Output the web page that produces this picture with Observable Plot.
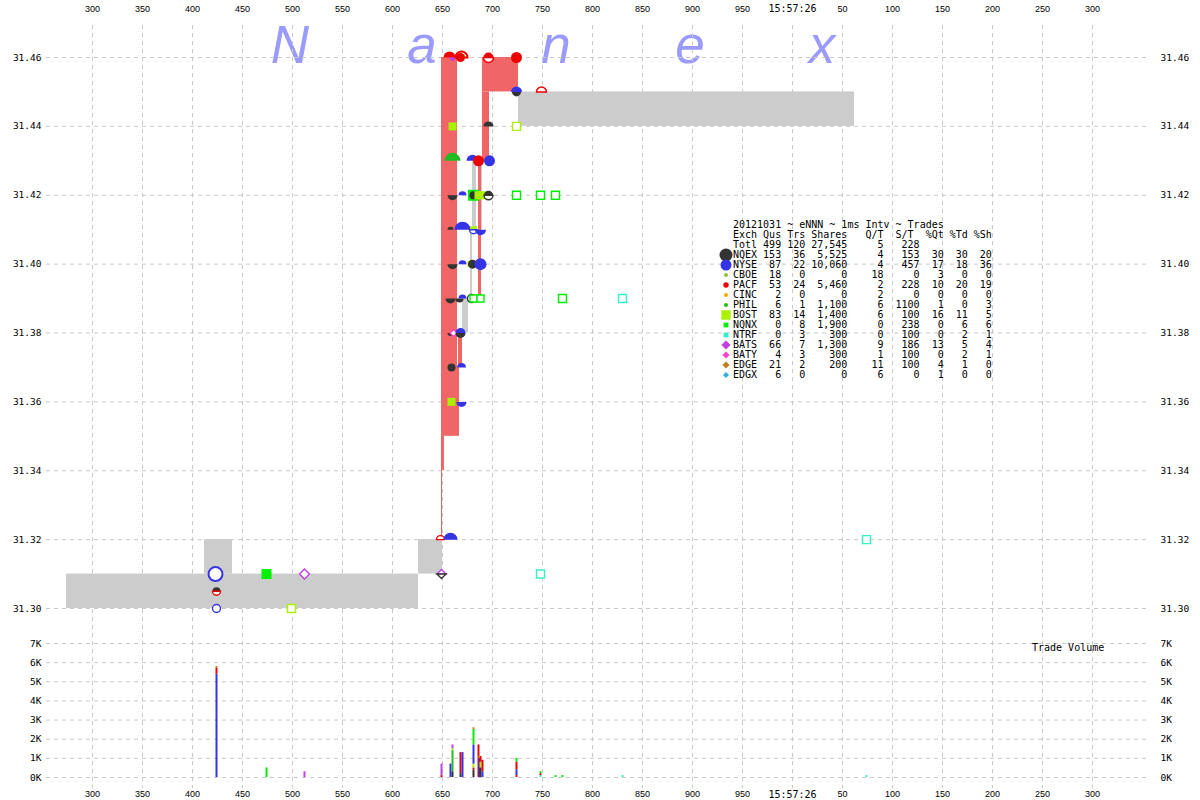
<!DOCTYPE html>
<html><head><meta charset="utf-8">
<script src="https://cdn.jsdelivr.net/npm/d3@7"></script>
<script src="https://cdn.jsdelivr.net/npm/@observablehq/plot@0.6"></script>
<style>
body{margin:0;background:#fff;}
#wrap{position:relative;width:1200px;height:800px;overflow:hidden;background:#fff;}
#wrap svg.plot-part{position:absolute;left:0;}
.wm{position:absolute;top:25px;font-family:"Liberation Sans",sans-serif;font-style:italic;font-size:53px;line-height:40px;height:40px;color:#9a9aff;transform:translateX(-50%);}
#legend{position:absolute;left:733px;top:220px;font-family:"DejaVu Sans Mono",monospace;font-size:10px;line-height:10px;white-space:pre;color:#000;}
#legend .row{position:relative;height:10px;}
#legend svg{position:absolute;top:-3px;left:-15px;overflow:visible;}
#tv{position:absolute;left:1032px;top:642px;font-family:"DejaVu Sans Mono",monospace;font-size:10px;color:#000;}
</style></head><body><div id="wrap"></div>
<script>
// ---------- axis ticks ----------
const xTicks = [300,350,400,450,500,550,600,650,700,750,800,850,900,950,1000,1050,1100,1150,1200,1250,1300];
const xTickLabels = ["300","350","400","450","500","550","600","650","700","750","800","850","900","950","15:57:26","50","100","150","200","250","300"];
const priceTicks = [31.30,31.32,31.34,31.36,31.38,31.40,31.42,31.44,31.46];
const volTicks = [0,1000,2000,3000,4000,5000,6000,7000];
const volTickLabels = ["0K","1K","2K","3K","4K","5K","6K","7K"];
const watermark = ["N","a","n","e","x"];

// ---------- exchanges ----------
const exchNames  = ["NQEX","NYSE","CBOE","PACF","CINC","PHIL","BOST","NQNX","NTRF","BATS","BATY","EDGE","EDGX"];
const exchColors = ["#333333","#3434e6","#94c43a","#ee0000","#ffa500","#22bb22","#aaf000","#00f000","#33f0c8","#c040e0","#ff40c8","#c08020","#30b0e0"];
const exchShapes = ["circle","circle","circle","circle","circle","circle","square","square","square","diamond","diamond","diamond","diamond"];
const exchLegendR = [6.5,5.5,2,2.7,2,2,4.7,2.4,2.4,4.6,3.6,3.6,3];
const exchQus    = [153,87,18,53,2,6,83,0,0,66,4,21,6];
const exchTrs    = [36,22,0,24,0,1,14,8,3,7,3,2,0];
const exchShares = [5525,10060,0,5460,0,1100,1400,1900,300,1300,300,200,0];
const exchQT     = [4,4,18,2,2,6,6,0,0,9,1,11,6];
const exchST     = [153,457,0,228,0,1100,100,238,100,186,100,100,0];
const exchPctQt  = [30,17,3,10,0,1,16,0,0,13,0,4,1];
const exchPctTd  = [30,18,0,20,0,0,11,6,2,5,2,1,0];
const exchPctSh  = [20,36,0,19,0,3,5,6,1,4,1,0,0];
const totals = {qus:499, trs:120, shares:27545, qt:5, st:228};

// ---------- NBBO spread (grey) and crossed market (red): [t1 ms, t2 ms, low, high, kind] ----------
const spreadBands = [
  [274,626,31.30,31.31,"nbbo"],
  [412,440,31.31,31.32,"nbbo"],
  [626,650,31.31,31.32,"nbbo"],
  [726,1062,31.44,31.45,"nbbo"],
  [680,684,31.41,31.43,"nbbo"],
  [689,690,31.41,31.43,"nbbo"],
  [678,680,31.39,31.41,"nbbo"],
  [670,676,31.38,31.39,"nbbo"],
  [649,665,31.35,31.46,"crossed"],
  [665,667,31.35,31.37,"crossed"],
  [666,670,31.37,31.38,"crossed"],
  [649,652,31.34,31.35,"crossed"],
  [649,650,31.32,31.34,"crossed"],
  [690,726,31.45,31.46,"crossed"],
  [690,697,31.43,31.45,"crossed"],
  [686,689,31.39,31.43,"crossed"]
];

// ---------- quotes & trades: [t ms, price, exch, shape, radius, filled] ----------
const priceMarks = [
  [423,31.31,"NYSE","circle",7,false],
  [424,31.305,"NQEX","up",4,true],
  [424,31.305,"PACF","down",4,false],
  [424,31.30,"NYSE","circle",4,false],
  [474,31.31,"NQNX","square",5,true],
  [512,31.31,"BATS","diamond",5,false],
  [499,31.30,"BOST","square",4,false],
  [649,31.31,"BATS","diamondUp",4.5,false],
  [649,31.31,"NQEX","diamondDown",4.5,false],
  [648,31.32,"PACF","up",4,false],
  [658,31.32,"NYSE","up",7,true],
  [657,31.46,"PACF","up",6,true],
  [660,31.46,"BATS","diamondDown",4,true],
  [669,31.46,"PACF","up",6,false],
  [668,31.46,"PACF","circle",4.5,true],
  [696,31.46,"PACF","up",5,true],
  [696,31.46,"PACF","down",5,false],
  [724,31.46,"PACF","circle",5.5,true],
  [749,31.45,"PACF","up",5,false],
  [724,31.45,"NYSE","up",5.5,true],
  [724,31.45,"NQEX","down",4.5,true],
  [660,31.44,"BOST","square",4,true],
  [696,31.44,"NQEX","up",5,true],
  [724,31.44,"BOST","square",4,false],
  [660,31.43,"PHIL","up",8,true],
  [680,31.43,"NYSE","up",6,true],
  [686,31.43,"PACF","circle",5.5,true],
  [697,31.43,"NYSE","circle",5.5,true],
  [660,31.42,"NQEX","down",5,true],
  [670,31.42,"NYSE","up",4,true],
  [681,31.42,"NQNX","square",5.5,true],
  [681,31.42,"NQEX","circle",4,true],
  [686,31.42,"BOST","square",4,true],
  [689,31.42,"BOST","square",4,true],
  [696,31.42,"NQEX","up",4.5,true],
  [696,31.42,"NQEX","down",4.5,false],
  [724,31.42,"NQNX","square",4,false],
  [748,31.42,"NQNX","square",4,false],
  [763,31.42,"NQNX","square",4,false],
  [658,31.41,"NQEX","up",3,true],
  [670,31.41,"NYSE","up",8,true],
  [681,31.41,"BOST","square",3.5,true],
  [681,31.41,"NYSE","down",4,false],
  [688,31.41,"NYSE","down",5.5,true],
  [660,31.40,"NQEX","down",5,true],
  [670,31.40,"NYSE","up",4,true],
  [678,31.40,"BOST","square",3,true],
  [680,31.40,"NQEX","circle",4.5,true],
  [688,31.40,"NYSE","circle",6,true],
  [658,31.39,"NQEX","down",5,true],
  [667,31.39,"NQEX","down",4,true],
  [670,31.39,"NYSE","up",4,true],
  [679,31.39,"NQEX","circle",4,false],
  [681,31.39,"NQNX","square",3.5,false],
  [688,31.39,"NQNX","square",3.5,false],
  [770,31.39,"NQNX","square",4,false],
  [830,31.39,"NTRF","square",4,false],
  [658,31.38,"NQEX","down",3,true],
  [661,31.38,"BATY","diamond",3.5,false],
  [668,31.38,"NYSE","up",5,true],
  [668,31.38,"NQEX","down",5,true],
  [659,31.37,"NQEX","circle",4,true],
  [669,31.37,"NYSE","up",4.5,true],
  [659,31.36,"BOST","square",4,true],
  [669,31.36,"NYSE","down",5,true],
  [748,31.31,"NTRF","square",4,false],
  [1074,31.32,"NTRF","square",4,false]
];

// ---------- trade volume: [t ms, exch, shares] ----------
const volumeTrades = [
  [424,"NYSE",5400],[424,"PACF",300],[424,"EDGE",100],
  [474,"NQNX",500],
  [512,"BATS",300],
  [649,"PACF",100],[649,"BATS",600],
  [658,"NYSE",700],
  [660,"NQEX",300],[660,"PHIL",1100],[660,"BOST",100],[660,"BATS",200],
  [668,"NQEX",200],[668,"PACF",1100],
  [670,"NYSE",1300],
  [681,"NQEX",400],[681,"PACF",100],[681,"BOST",200],[681,"NYSE",1000],[681,"NQNX",800],[681,"EDGE",100],
  [686,"PACF",1700],
  [687,"NYSE",1000],[687,"BOST",100],
  [688,"NQEX",500],[688,"BOST",300],[688,"PACF",300],
  [690,"NYSE",300],[690,"PACF",600],
  [724,"PACF",100],[724,"NYSE",300],[724,"PACF",400],[724,"NQNX",200],
  [748,"NTRF",100],[748,"PACF",100],[748,"NQNX",100],
  [763,"NQNX",100],
  [770,"NQNX",100],
  [830,"NTRF",100],
  [1074,"NTRF",100]
];

// ---------- helpers ----------
const colorOf = Object.fromEntries(exchNames.map((n,i)=>[n,exchColors[i]]));
const rad = s => Math.sqrt(s/Math.PI);
const SYM = {
  circle:{draw(c,s){const r=rad(s);c.moveTo(r,0);c.arc(0,0,r,0,2*Math.PI);c.closePath();}},
  up:{draw(c,s){const r=rad(s);c.moveTo(-r,0);c.arc(0,0,r,Math.PI,2*Math.PI);c.closePath();}},
  down:{draw(c,s){const r=rad(s);c.moveTo(r,0);c.arc(0,0,r,0,Math.PI);c.closePath();}},
  square:{draw(c,s){const r=rad(s);c.rect(-r,-r,2*r,2*r);}},
  diamond:{draw(c,s){const r=rad(s);c.moveTo(0,-r);c.lineTo(r,0);c.lineTo(0,r);c.lineTo(-r,0);c.closePath();}},
  diamondUp:{draw(c,s){const r=rad(s);c.moveTo(-r,0);c.lineTo(0,-r);c.lineTo(r,0);c.closePath();}},
  diamondDown:{draw(c,s){const r=rad(s);c.moveTo(-r,0);c.lineTo(0,r);c.lineTo(r,0);c.closePath();}}
};
const GRID = {stroke:"#c8c8c8", strokeOpacity:1, strokeDasharray:"4,4"};
const xLabel = new Map(xTicks.map((t,i)=>[t,xTickLabels[i]]));
const volLabel = new Map(volTicks.map((t,i)=>[t,volTickLabels[i]]));
const numTicks = xTicks.filter(t=>t!==1000);
const timeTicks = xTicks.filter(t=>t===1000);
const NUMFONT = {fontFamily:"Liberation Sans", fontSize:9};
const MONO = {fontFamily:"DejaVu Sans Mono", fontSize:9.5};
const xScale = {domain:[300,1300], range:[92,1092]};

const bands = spreadBands.map(([t1,t2,lo,hi,kind])=>({t1,t2,lo,hi,kind}));
const marks = priceMarks.map(([t,price,exch,shape,r,filled])=>({t,price,exch,shape,r,filled}));

// ---------- price panel ----------
const dotMarks = marks.map(d => Plot.dot([d], {
  x:"t", y:"price", r:d.r, symbol:SYM[d.shape],
  fill: d.filled ? colorOf[d.exch] : "white",
  stroke: d.filled ? "none" : colorOf[d.exch],
  strokeWidth: d.r >= 6 && !d.filled ? 2 : 1.4
}));

const topPlot = Plot.plot({
  width:1200, height:625,
  marginLeft:46, marginRight:50, marginTop:25, marginBottom:0,
  x:xScale,
  y:{domain:[31.30,31.46], range:[608,57]},
  style:{background:"transparent", overflow:"visible"},
  marks:[
    Plot.gridX(xTicks, GRID),
    Plot.gridY(priceTicks, GRID),
    Plot.rect(bands, {x1:"t1", x2:"t2", y1:"lo", y2:"hi", fill:d=>d.kind==="nbbo"?"#cccccc":"#f06666"}),
    ...dotMarks,
    Plot.axisX(numTicks, {anchor:"top", tickSize:0, tickPadding:14, label:null, tickFormat:d=>xLabel.get(d), ...NUMFONT}),
    Plot.axisX(timeTicks, {anchor:"top", tickSize:0, tickPadding:14, label:null, tickFormat:d=>xLabel.get(d), fontFamily:"DejaVu Sans Mono", fontSize:10}),
    Plot.axisY(priceTicks, {anchor:"left", tickSize:0, tickPadding:5, label:null, tickFormat:d=>d.toFixed(2), ...MONO}),
    Plot.axisY(priceTicks, {anchor:"right", tickSize:0, tickPadding:10, label:null, tickFormat:d=>d.toFixed(2), ...MONO})
  ]
});

// ---------- volume panel ----------
const vol = [];
const cum = new Map();
for (const [t,exch,shares] of volumeTrades) {
  const base = cum.get(t) || 0;
  vol.push({t, exch, y1:base, y2:base+shares});
  cum.set(t, base+shares);
}
const volPlot = Plot.plot({
  width:1200, height:175,
  marginLeft:46, marginRight:50, marginTop:0, marginBottom:12,
  x:xScale,
  y:{domain:[0,7000], range:[152,18]},
  style:{background:"transparent", overflow:"visible"},
  marks:[
    Plot.gridX(xTicks, GRID),
    Plot.gridY(volTicks, GRID),
    Plot.ruleX(vol, {x:"t", y1:"y1", y2:"y2", stroke:d=>colorOf[d.exch], strokeWidth:2}),
    Plot.axisX(numTicks, {anchor:"bottom", tickSize:0, tickPadding:2, label:null, tickFormat:d=>xLabel.get(d), ...NUMFONT}),
    Plot.axisX(timeTicks, {anchor:"bottom", tickSize:0, tickPadding:2, label:null, tickFormat:d=>xLabel.get(d), fontFamily:"DejaVu Sans Mono", fontSize:10}),
    Plot.axisY(volTicks, {anchor:"left", tickSize:0, tickPadding:5, label:null, tickFormat:d=>volLabel.get(d), ...MONO}),
    Plot.axisY(volTicks, {anchor:"right", tickSize:0, tickPadding:10, label:null, tickFormat:d=>volLabel.get(d), ...MONO})
  ]
});

// ---------- assemble ----------
const wrap = document.getElementById("wrap");
const wmCenters = [290,422,556,690,822];
watermark.forEach((ch,i)=>{
  const s=document.createElement("div"); s.className="wm"; s.textContent=ch; s.style.left=wmCenters[i]+"px"; wrap.appendChild(s);
});
topPlot.classList.add("plot-part"); topPlot.style.top="0px"; wrap.appendChild(topPlot);
volPlot.classList.add("plot-part"); volPlot.style.top="625px"; wrap.appendChild(volPlot);

const tv=document.createElement("div"); tv.id="tv"; tv.textContent="Trade Volume"; wrap.appendChild(tv);

// legend
const fmt = d3.format(",");
const p = (v,n)=>String(v).padStart(n);
const legend=document.createElement("div"); legend.id="legend";
const lines=[
  {text:"20121031 ~ eNNN ~ 1ms Intv ~ Trades"},
  {text:"Exch Qus Trs Shares   Q/T  S/T  %Qt %Td %Sh"},
  {text:"Totl"+p(totals.qus,4)+p(totals.trs,4)+p(fmt(totals.shares),7)+p(totals.qt,6)+p(totals.st,6)}
];
exchNames.forEach((n,i)=>{
  lines.push({i, text:n+p(exchQus[i],4)+p(exchTrs[i],4)+p(fmt(exchShares[i]),7)+p(exchQT[i],6)+p(exchST[i],6)+p(exchPctQt[i],4)+p(exchPctTd[i],4)+p(exchPctSh[i],4)});
});
lines.forEach(l=>{
  const row=document.createElement("div"); row.className="row"; row.textContent=l.text;
  if (l.i!==undefined) {
    const r=exchLegendR[l.i];
    const svg=d3.create("svg").attr("width",16).attr("height",16).attr("viewBox","-8 -8 16 16");
    svg.append("path").attr("d", d3.symbol(SYM[exchShapes[l.i]], Math.PI*r*r)()).attr("fill", exchColors[l.i]);
    row.appendChild(svg.node());
  }
  legend.appendChild(row);
});
wrap.appendChild(legend);
</script></body></html>
